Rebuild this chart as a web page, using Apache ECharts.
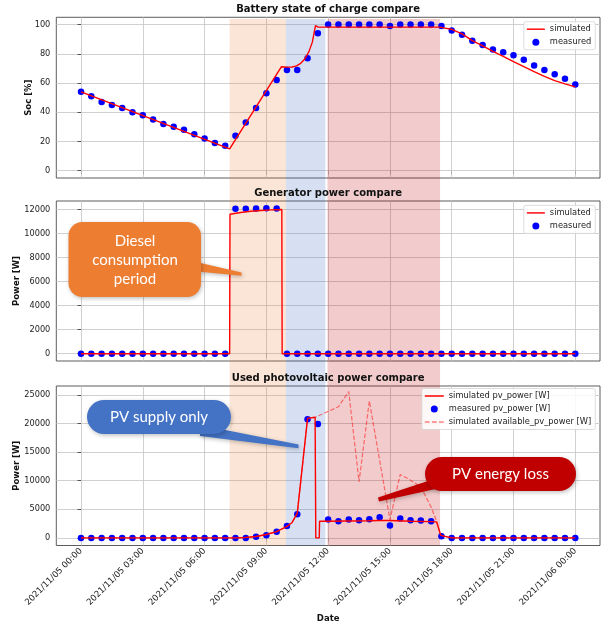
<!DOCTYPE html>
<html><head><meta charset="utf-8">
<script src="https://cdn.jsdelivr.net/npm/echarts@6/dist/echarts.min.js"></script>
<style>html,body{margin:0;padding:0;background:#fff}#c{width:610px;height:626px}</style>
</head><body><div id="c"></div>
<script>
// ---------------- data ----------------
const measuredStepMinutes = 30;   // measured samples every 30 min from 2021/11/05 00:00
const measuredSoc = [54,51,47,45,43,40,38,35,32,30,28,25,22,19,17,24,33,43,53,62,69,69,77,94,100,100,100,100,100,100,99,100,100,100,100,99,96,93,89,86,83,81,79,76,72,69,66,63,59];
const measuredGen = [0,0,0,0,0,0,0,0,0,0,0,0,0,0,0,12050,12050,12080,12100,12080,0,0,0,0,0,0,0,0,0,0,0,0,0,0,0,0,0,0,0,0,0,0,0,0,0,0,0,0,0];
const measuredPv = [0,0,0,0,0,0,0,0,0,0,0,0,0,0,0,0,0,200,450,1080,2100,4150,20740,19920,3220,2930,3220,3100,3280,3630,2170,3390,3100,3040,2930,300,0,0,0,0,0,0,0,0,0,0,0,0,0];

const simSocTimes  = ['00:00','07:13','09:44','10:00','10:15','10:28','10:40','10:52','11:04','11:14','11:23','11:31','17:26','17:36','18:00','18:30','19:00','19:30','20:00','20:30','21:00','21:30','22:00','22:30','23:00','23:30','24:00'];
const simSocValues = [54.0,14.9,71.2,70.9,71.0,71.8,73.5,76.5,81.5,88.0,99.3,98.3,98.3,97.8,96.8,93.6,89.0,85.4,81.7,78.3,74.7,71.2,67.8,64.6,61.6,59.4,57.4];

const simGenTimes  = ['00:00','07:13','07:14','07:45','08:15','08:45','09:15','09:45','09:46','24:00'];
const simGenValues = [0,0,11600,11750,11850,11920,11970,12000,0,0];

const simPvTimes  = ['00:00','07:30','08:00','08:30','09:00','09:30','10:00','10:15','10:30','11:00','11:22','11:24','11:34','11:35','12:00','13:00','14:00','14:30','15:00','16:00','17:00','17:16','17:28','18:00','24:00'];
const simPvValues = [0,0,80,250,600,1100,2000,2700,4300,20900,21100,0,0,2900,2900,2950,3000,3050,3050,2900,2850,2800,450,0,0];

const simAvailPvTimes  = ['00:00','07:30','08:00','08:30','09:00','09:30','10:00','10:15','10:30','11:00','11:22','12:30','13:00','13:30','14:00','15:00','15:30','16:00','16:30','17:00','17:16','17:28','18:00','24:00'];
const simAvailPvValues = [0,0,80,250,600,1100,2000,2700,4300,20900,21100,22950,25600,9800,23950,3200,11100,10100,8900,5400,2900,450,0,0];

const xTickTimes  = ['00:00','03:00','06:00','09:00','12:00','15:00','18:00','21:00','24:00'];
const xTickLabels = ['2021/11/05 00:00','2021/11/05 03:00','2021/11/05 06:00','2021/11/05 09:00','2021/11/05 12:00','2021/11/05 15:00','2021/11/05 18:00','2021/11/05 21:00','2021/11/06 00:00'];
const socTicks = [0,20,40,60,80,100];
const genTicks = [0,2000,4000,6000,8000,10000,12000];
const pvTicks  = [0,5000,10000,15000,20000,25000];

const bandNames = ['Diesel', 'PV only', 'PV loss'];
const bandFrom  = ['07:13','09:57','11:58'];
const bandTo    = ['09:57','11:52','17:26'];

const titles = ['Battery state of charge compare','Generator power compare','Used photovoltaic power compare'];

// ---------------- helpers ----------------
// x coordinate = hours since 2021/11/05 00:00
function t(hm){ const p = hm.split(':').map(Number); return p[0] + p[1] / 60; }
const measuredTimes = measuredSoc.map((_, i) => i * measuredStepMinutes / 60);
const zip = (xs, ys) => xs.map((x, i) => [x, ys[i]]);
const pairs = (times, vals) => times.map((s, i) => [t(s), vals[i]]);
const xMin = t('00:00') - 1.2, xMax = t('24:00') + 1.2;
const xTickValues = xTickTimes.map(t);

// ---------------- layout / style ----------------
const FONT = 'DejaVu Sans';
const L = 56.3, W = 543.7;
const gridsPx = [{top:17.3, height:160.7},{top:201, height:160},{top:386, height:159.5}];
const yRanges = [[-5,105],[-605,12705],[-1330,26574]];
const yTicks = [socTicks, genTicks, pvTicks];
const yNames = ['Soc [%]','Power [W]','Power [W]'];
const yNameGaps = [23, 35, 35];
const RED = '#ff0000', BLUE = '#0000ff', GRIDC = '#c4c4c4';

const grid = gridsPx.map(g => ({left:L, width:W, top:g.top, height:g.height, show:true,
  borderColor:'#333', borderWidth:0.8, backgroundColor:'transparent', containLabel:false, outerBoundsMode:'none'}));
grid.push({left:L, width:W, top:19, height:526.5, show:false, containLabel:false, outerBoundsMode:'none'});

const xAxis = [0,1,2].map(i => ({
  type:'value', gridIndex:i, min:xMin, max:xMax,
  axisLine:{show:false},
  axisTick:{show:true, length:3.5, lineStyle:{color:'#333', width:0.8}, customValues:xTickValues},
  axisLabel:{show:i===2, customValues:xTickValues, rotate:45, margin:4, fontSize:8.6, fontFamily:FONT, color:'#222',
    formatter:(v) => { const k = xTickValues.findIndex(x => Math.abs(x - v) < 1e-6); return k >= 0 ? xTickLabels[k] : ''; }},
  splitLine:{show:false},
  name: i===2 ? 'Date' : '', nameLocation:'middle', nameGap:69, nameMoveOverlap:false,
  nameTextStyle:{fontFamily:FONT, fontWeight:'bold', fontSize:8.5, color:'#111'}
}));
xAxis.push({type:'value', gridIndex:3, min:xMin, max:xMax, show:false});

const yAxis = [0,1,2].map(i => ({
  type:'value', gridIndex:i, min:yRanges[i][0], max:yRanges[i][1],
  axisLine:{show:false},
  axisTick:{show:true, length:3.5, lineStyle:{color:'#333', width:0.8}, customValues:yTicks[i]},
  axisLabel:{customValues:yTicks[i], margin:6, fontSize:8.2, fontFamily:FONT, color:'#222', formatter:(v) => String(v)},
  splitLine:{show:true, lineStyle:{color:GRIDC, width:0.8}},
  name:yNames[i], nameLocation:'middle', nameGap:yNameGaps[i], nameRotate:90, nameMoveOverlap:false,
  nameTextStyle:{fontFamily:FONT, fontWeight:'bold', fontSize:8.5, color:'#111'}
}));
yAxis.push({type:'value', gridIndex:3, min:0, max:1, show:false});

const vGrid = {silent:true, symbol:['none','none'], z:0.5, label:{show:false}, emphasis:{disabled:true},
  lineStyle:{color:GRIDC, width:0.8, type:'solid'}, data: xTickValues.map(v => ({xAxis:v}))};

const lineS = (name, idx, data, dashed) => ({
  type:'line', name, xAxisIndex:idx, yAxisIndex:idx, data, showSymbol:false, symbol:'none', z:3,
  lineStyle: dashed ? {color:'rgba(255,0,0,0.5)', width:1.2, type:[4.5,2]} : {color:RED, width:1.4},
  itemStyle:{color: dashed ? 'rgba(255,0,0,0.5)' : RED}
});
const scatS = (name, idx, data) => ({
  type:'scatter', name, xAxisIndex:idx, yAxisIndex:idx, data, symbol:'circle', symbolSize:6.5, z:2,
  itemStyle:{color:BLUE, opacity:1}, markLine: vGrid
});

const bandColors = ['rgba(237,125,49,0.2)','rgba(68,114,196,0.22)','rgba(192,0,0,0.2)'];

const series = [
  lineS('simulated', 0, pairs(simSocTimes, simSocValues)),
  scatS('measured', 0, zip(measuredTimes, measuredSoc)),
  lineS('simulated', 1, pairs(simGenTimes, simGenValues)),
  scatS('measured', 1, zip(measuredTimes, measuredGen)),
  lineS('simulated pv_power [W]', 2, pairs(simPvTimes, simPvValues)),
  scatS('measured pv_power [W]', 2, zip(measuredTimes, measuredPv)),
  lineS('simulated available_pv_power [W]', 2, pairs(simAvailPvTimes, simAvailPvValues), true),
  { type:'line', name:'bands', xAxisIndex:3, yAxisIndex:3, data:[[xMin,0]], symbol:'none', showSymbol:false,
    lineStyle:{opacity:0}, silent:true, z:1,
    markArea:{silent:true, z:1, label:{show:false},
      data: bandNames.map((n, i) => [{name:n, xAxis:t(bandFrom[i]), itemStyle:{color:bandColors[i]}}, {xAxis:t(bandTo[i])}])}
  }
];

const LINE_ICON = 'path://M0,0h20v1.6h-20z';
const DASH_ICON = 'path://M0,0h5v1.4h-5zM7.5,0h5v1.4h-5zM15,0h5v1.4h-5z';
const legendBase = {orient:'vertical', right:14.7, itemWidth:18, itemHeight:7, itemGap:4,
  padding:[3,4,3,3], borderColor:'#d4d4d4', borderWidth:0.8, borderRadius:2, backgroundColor:'rgba(255,255,255,0.85)',
  textStyle:{fontFamily:FONT, fontSize:8.3, color:'#222', lineHeight:9}, selectedMode:false};
const legend = [
  Object.assign({}, legendBase, {top:21.7, data:[{name:'simulated', icon:LINE_ICON},{name:'measured', icon:'circle'}]}),
  Object.assign({}, legendBase, {top:205.4, data:[{name:'simulated', icon:LINE_ICON},{name:'measured', icon:'circle'}]}),
  Object.assign({}, legendBase, {top:388.5, itemWidth:19, data:[{name:'simulated pv_power [W]', icon:LINE_ICON},{name:'measured pv_power [W]', icon:'circle'},{name:'simulated available_pv_power [W]', icon:DASH_ICON}]})
];

const title = titles.map((s, i) => ({text:s, left:L + W/2, textAlign:'center', top:gridsPx[i].top - 12.5, padding:0,
  textStyle:{fontFamily:FONT, fontWeight:'bold', fontSize:10, color:'#111'}}));

const CALLFONT = 'Lato';
const shadow = {shadowBlur:4, shadowColor:'rgba(0,0,0,0.25)', shadowOffsetX:1, shadowOffsetY:1.5};
const graphic = {elements:[
  {type:'polygon', z:100, shape:{points:[[192,261],[241.5,272.5],[241.5,275.8],[192,271]]}, style:Object.assign({fill:'#ED7D31'}, shadow)},
  {type:'rect', z:100, shape:{x:68.5, y:222, width:132.5, height:75, r:14}, style:Object.assign({fill:'#ED7D31'}, shadow)},
  {type:'text', z:101, style:{text:'Diesel\nconsumption\nperiod', x:135, y:260, align:'center', verticalAlign:'middle',
    fill:'#fff', fontFamily:CALLFONT, fontSize:15, lineHeight:19}},

  {type:'polygon', z:100, shape:{points:[[200,425],[298.5,444.5],[298.5,448.3],[200,436]]}, style:Object.assign({fill:'#4472C4'}, shadow)},
  {type:'rect', z:100, shape:{x:87, y:400, width:144, height:34, r:17}, style:Object.assign({fill:'#4472C4'}, shadow)},
  {type:'text', z:101, style:{text:'PV supply only', x:159, y:417.5, align:'center', verticalAlign:'middle',
    fill:'#fff', fontFamily:CALLFONT, fontSize:15}},

  {type:'polygon', z:100, shape:{points:[[440,477],[440,488],[379,501.5],[378,497.5]]}, style:Object.assign({fill:'#C00000'}, shadow)},
  {type:'rect', z:100, shape:{x:425, y:457, width:151, height:34, r:17}, style:Object.assign({fill:'#C00000'}, shadow)},
  {type:'text', z:101, style:{text:'PV energy loss', x:500.5, y:474, align:'center', verticalAlign:'middle',
    fill:'#fff', fontFamily:CALLFONT, fontSize:15}}
]};

const chart = echarts.init(document.getElementById('c'));
chart.setOption({animation:false, backgroundColor:'#fff', title, legend, grid, xAxis, yAxis, series, graphic});
</script></body></html>
